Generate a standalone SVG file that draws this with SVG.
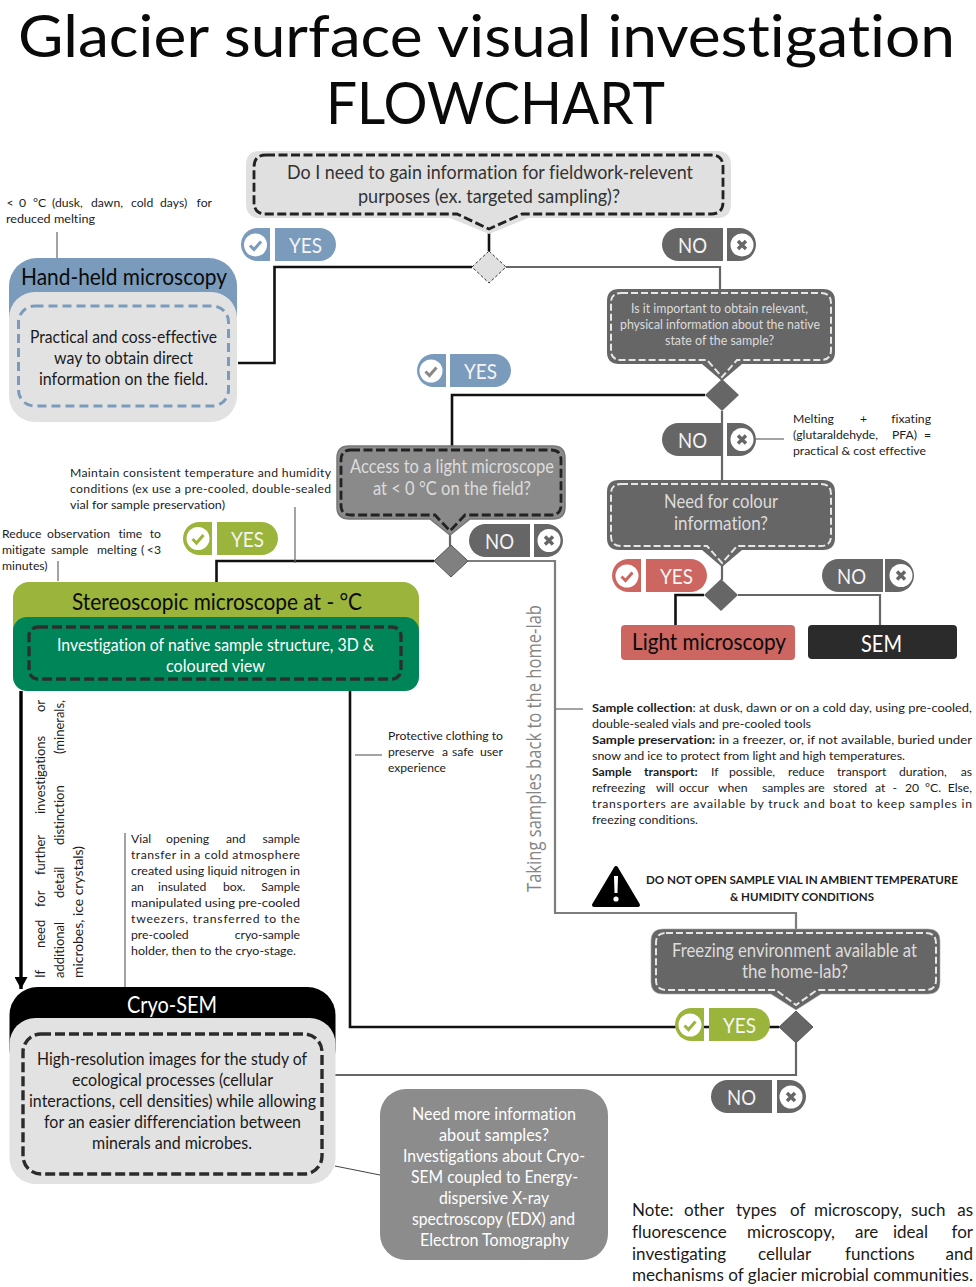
<svg xmlns="http://www.w3.org/2000/svg" width="976" height="1287" viewBox="0 0 976 1287">
<style>
text{font-family:Lato,"Open Sans",sans-serif;font-variant-ligatures:none}
.ti{font-size:58px;font-weight:400;fill:#0a0a0a}
.a{font-size:12.2px;fill:#1c1c1c}
.r{font-size:13px}
.ab{font-weight:700}
.big{font-size:24px;fill:#0a0a0a}
.b{font-size:17px;fill:#1a1a1a}
.w{fill:#fff}
.lt{fill:#dcdcdc}
.q1{font-size:19px;fill:#333}
.q{font-size:19px}
.s{font-size:13px}
.p{font-size:22px;fill:#f4f4f4;font-weight:400}
.rl{font-family:"Open Sans",Lato,sans-serif;font-size:20px;fill:#858585;font-weight:400}
.note{font-size:17px;fill:#1a1a1a}
.e{text-anchor:end}
.k{fill:none;stroke:#111;stroke-width:2.6}
.g{fill:none;stroke:#666;stroke-width:2.2}
.g2{fill:none;stroke:#7d7d7d;stroke-width:2.2}
.th{fill:none;stroke:#666;stroke-width:1.2}
.dk{fill:none;stroke:#222;stroke-width:2.8;stroke-dasharray:9 3.5}
.dl{fill:none;stroke:#e6e6e6;stroke-width:2;stroke-dasharray:7 3}
</style>
<defs>
<path id="lp" d="M16.5 0H29V33H16.5A16.5 16.5 0 0 1 16.5 0Z"/>
<path id="rp" d="M0 0H44.5A16.5 16.5 0 0 1 44.5 33H0Z"/>
<path id="nl" d="M16.5 0H61V33H16.5A16.5 16.5 0 0 1 16.5 0Z"/>
<path id="nr" d="M0 0H12.5A16.5 16.5 0 0 1 12.5 33H0Z"/>
<g id="chk"><circle cx="0" cy="0" r="11.5" fill="#fff"/><path d="M-5.5 0.5L-1.5 4.5L5.5 -3.5" fill="none" stroke="currentColor" stroke-width="3"/></g>
<g id="xx"><circle cx="0" cy="0" r="11.5" fill="#fff"/><path d="M-4 -4L4 4M4 -4L-4 4" fill="none" stroke="#666" stroke-width="3.4"/></g>
<marker id="ah" markerUnits="userSpaceOnUse" markerWidth="14" markerHeight="13" refX="12" refY="6.5" orient="auto"><path d="M0 0L12 6.5L0 13Z" fill="#000"/></marker>
</defs>
<rect width="976" height="1287" fill="#fff"/>
<g id="title">
<text class="ti" x="18" y="57" textLength="937" lengthAdjust="spacingAndGlyphs">Glacier surface visual investigation</text>
<text class="ti" x="326" y="124" textLength="339" lengthAdjust="spacingAndGlyphs">FLOWCHART</text>
</g>
<g id="connectors">
<path class="k" d="M489 232V251"/>
<path class="k" d="M472 267H274.5V363H238"/>
<path class="g" d="M506 267H720V290"/>
<path class="k" d="M705 395H452V447"/>
<path class="g" d="M722 411V481"/>
<path class="g" d="M722 565V580"/>
<path class="k" d="M704 595H675.5V626"/>
<path class="g" d="M738 595H880V626"/>
<path class="g" d="M450 533V546"/>
<path class="k" d="M434 561H216.5V583"/>
<path class="g2" d="M468 561H555V913H796V930"/>
<path fill="none" stroke="#000" stroke-width="3.4" d="M21 691V989" marker-end="url(#ah)"/>
<path class="k" d="M350 691V1027H779"/>
<path class="g" d="M796 1043V1075H335"/>
<path class="th" d="M57 232V258"/>
<path class="th" d="M756 439H784"/>
<path class="th" stroke="#333" d="M295 507V563"/>
<path class="th" d="M58 561V581"/>
<path class="th" d="M556 709H583"/>
<path class="th" d="M355 755H382"/>
<path class="th" d="M125 833V987"/>
<path fill="none" stroke="#444" stroke-width="1" d="M335 1166L380 1175"/>
</g>
<g id="q1">
<path fill="#e0e0e0" d="M260 151H717Q731 151 731 165V204Q731 218 717 218H528L489 234L450 218H260Q246 218 246 204V165Q246 151 260 151Z"/>
<path class="dk" d="M266 155H711Q723 155 723 167V202Q723 214 711 214H522L489 229L457 214H266Q254 214 254 202V167Q254 155 266 155Z"/>
<text class="q1" x="287" y="179" textLength="406" lengthAdjust="spacingAndGlyphs">Do I need to gain information for fieldwork-relevent</text>
<text class="q1" x="358" y="203" textLength="262" lengthAdjust="spacingAndGlyphs">purposes (ex. targeted sampling)?</text>
</g>
<g id="d1"><path fill="#e0e0e0" stroke="#333" stroke-width="1" stroke-dasharray="3 2" d="M489 251L506 267L489 283L472 267Z"/></g>
<g id="yes1" fill="#7b9bbd" color="#7b9bbd">
<use href="#lp" x="241" y="228"/><use href="#rp" x="275" y="228"/><use href="#chk" x="255.5" y="245"/>
<text class="p" x="289" y="252.5" textLength="33" lengthAdjust="spacingAndGlyphs">YES</text>
</g>
<g id="no1" fill="#666"><use href="#nl" x="662" y="228"/><use href="#nr" x="727" y="228"/><use href="#xx" x="742" y="245"/>
<text class="p" x="678" y="252.5" textLength="29" lengthAdjust="spacingAndGlyphs">NO</text></g>
<g id="handheld">
<rect x="9" y="258" width="228" height="90" rx="28" fill="#7b9bbd"/>
<rect x="9" y="292" width="228" height="130" rx="26" fill="#e2e2e2"/>
<rect x="18.5" y="306" width="210" height="100" rx="16" fill="none" stroke="#7b9bbd" stroke-width="3" stroke-dasharray="9 5"/>
<text class="big" x="21" y="285" textLength="206" lengthAdjust="spacingAndGlyphs">Hand-held microscopy</text>
<text class="b" x="30" y="343" textLength="187" lengthAdjust="spacingAndGlyphs">Practical and coss-effective</text>
<text class="b" x="54" y="364" textLength="139" lengthAdjust="spacingAndGlyphs">way to obtain direct</text>
<text class="b" x="39" y="385" textLength="169" lengthAdjust="spacingAndGlyphs">information on the field.</text>
</g>
<g id="note-handheld">
<text class="a" y="207"><tspan x="6.5">&lt;</tspan><tspan x="19">0</tspan><tspan x="33">°C</tspan><tspan x="52">(dusk,</tspan><tspan x="91">dawn,</tspan><tspan x="131">cold</tspan><tspan x="160">days)</tspan><tspan class="e" x="212">for</tspan></text>
<text class="a" x="6" y="223" textLength="89" lengthAdjust="spacingAndGlyphs">reduced melting</text>
</g>
<g id="q2">
<path fill="#666" d="M619 289H823Q835 289 835 301V352Q835 364 823 364H742L722 381L702 364H619Q607 364 607 352V301Q607 289 619 289Z"/>
<path class="dl" d="M621 293H821Q831 293 831 303V350Q831 360 821 360H737L722 377L707 360H621Q611 360 611 350V303Q611 293 621 293Z"/>
<text class="s lt" x="631" y="313" textLength="177" lengthAdjust="spacingAndGlyphs">Is it important to obtain relevant,</text>
<text class="s lt" x="620" y="329" textLength="200" lengthAdjust="spacingAndGlyphs">physical information about the native</text>
<text class="s lt" x="665" y="345" textLength="109" lengthAdjust="spacingAndGlyphs">state of the sample?</text>
</g>
<g id="d2"><path fill="#666" d="M722 379L739 395L722 411L705 395Z"/></g>
<g id="yes2" fill="#7b9bbd" color="#888">
<use href="#lp" x="417" y="354"/><use href="#rp" x="450" y="354"/><use href="#chk" x="431" y="371"/>
<text class="p" x="464" y="378.5" textLength="33" lengthAdjust="spacingAndGlyphs">YES</text>
</g>
<g id="no2" fill="#666"><use href="#nl" x="662" y="423"/><use href="#nr" x="727" y="423"/><use href="#xx" x="742" y="439.5"/>
<text class="p" x="678" y="447.5" textLength="29" lengthAdjust="spacingAndGlyphs">NO</text></g>
<g id="note-melting">
<text class="a" y="423"><tspan x="793">Melting</tspan><tspan x="860">+</tspan><tspan class="e" x="931">fixating</tspan></text>
<text class="a" y="439"><tspan x="793">(glutaraldehyde,</tspan><tspan x="892">PFA)</tspan><tspan class="e" x="931">=</tspan></text>
<text class="a" x="793" y="455" textLength="133" lengthAdjust="spacingAndGlyphs">practical &amp; cost effective</text>
</g>
<g id="q3">
<path fill="#666" d="M619 480H823Q835 480 835 492V538Q835 550 823 550H742L722 567L702 550H619Q607 550 607 538V492Q607 480 619 480Z"/>
<path class="dl" d="M621 484H821Q831 484 831 494V536Q831 546 821 546H737L722 563L707 546H621Q611 546 611 536V494Q611 484 621 484Z"/>
<text class="q lt" x="664" y="508" textLength="114" lengthAdjust="spacingAndGlyphs">Need for colour</text>
<text class="q lt" x="674" y="530" textLength="94" lengthAdjust="spacingAndGlyphs">information?</text>
</g>
<g id="d3"><path fill="#666" d="M721 579L738 595L721 611L704 595Z"/></g>
<g id="yes3" fill="#cd6660" color="#cd6660">
<use href="#lp" x="612" y="559"/><use href="#rp" x="646" y="559"/><use href="#chk" x="627" y="576"/>
<text class="p" x="660" y="584" textLength="33" lengthAdjust="spacingAndGlyphs">YES</text>
</g>
<g id="no3" fill="#666"><use href="#nl" x="822" y="559"/><use href="#nr" x="885" y="559"/><use href="#xx" x="901" y="575.5"/>
<text class="p" x="837" y="584" textLength="29" lengthAdjust="spacingAndGlyphs">NO</text></g>
<g id="light"><rect x="621" y="625" width="174" height="35" rx="4" fill="#cd6660"/>
<text class="big" x="632" y="650" textLength="154" lengthAdjust="spacingAndGlyphs">Light microscopy</text></g>
<g id="sem"><rect x="808" y="625" width="149" height="34" rx="4" fill="#2b2b2b"/>
<text class="big w" x="861" y="652" textLength="41" lengthAdjust="spacingAndGlyphs">SEM</text></g>
<g id="q4">
<path fill="#8a8a8a" stroke="#777" stroke-width="1.5" d="M349 446H553Q565 446 565 458V507Q565 519 553 519H470L450 535L430 519H349Q337 519 337 507V458Q337 446 349 446Z"/>
<path class="dk" stroke="#333" d="M351 450H551Q561 450 561 460V505Q561 515 551 515H465L450 531L435 515H351Q341 515 341 505V460Q341 450 351 450Z"/>
<text class="q lt" x="350" y="473" textLength="204" lengthAdjust="spacingAndGlyphs">Access to a light microscope</text>
<text class="q lt" x="373" y="495" textLength="158" lengthAdjust="spacingAndGlyphs">at &lt; 0 °C on the field?</text>
</g>
<g id="d4"><path fill="#808080" stroke="#555" stroke-width="1" d="M451 545L468 561L451 577L434 561Z"/></g>
<g id="yes4" fill="#9bb43b" color="#9bb43b">
<use href="#lp" x="183" y="522"/><use href="#rp" x="217" y="522"/><use href="#chk" x="198" y="538.5"/>
<text class="p" x="231" y="547" textLength="33" lengthAdjust="spacingAndGlyphs">YES</text>
</g>
<g id="no4" fill="#666"><use href="#nl" x="469" y="524"/><use href="#nr" x="534" y="524"/><use href="#xx" x="549" y="540.5"/>
<text class="p" x="485" y="549" textLength="29" lengthAdjust="spacingAndGlyphs">NO</text></g>
<g id="note-maintain">
<text class="a" x="70" y="477" textLength="261">Maintain consistent temperature and humidity</text>
<text class="a" x="70" y="493" textLength="261">conditions (ex use a pre-cooled, double-sealed</text>
<text class="a" x="70" y="509" textLength="155" lengthAdjust="spacingAndGlyphs">vial for sample preservation)</text>
</g>
<g id="note-reduce">
<text class="a" y="538"><tspan x="2">Reduce</tspan><tspan x="47">observation</tspan><tspan x="118.5">time</tspan><tspan class="e" x="161">to</tspan></text>
<text class="a" y="554"><tspan x="2">mitigate</tspan><tspan x="51">sample</tspan><tspan x="97">melting</tspan><tspan x="141">(</tspan><tspan class="e" x="161">&lt;3</tspan></text>
<text class="a" x="2" y="570">minutes)</text>
</g>
<g id="stereo">
<rect x="13" y="582" width="406" height="70" rx="16" fill="#9bb43b"/>
<rect x="13" y="617" width="406" height="74" rx="14" fill="#008558"/>
<rect x="29" y="627" width="372" height="52" rx="9" fill="none" stroke="#2b2f2d" stroke-width="3.4" stroke-dasharray="10 4"/>
<text class="big" x="72" y="610" textLength="290" lengthAdjust="spacingAndGlyphs">Stereoscopic microscope at - °C</text>
<text class="b w" x="57" y="651" textLength="317" lengthAdjust="spacingAndGlyphs">Investigation of native sample structure, 3D &amp;</text>
<text class="b w" x="166" y="672" textLength="99" lengthAdjust="spacingAndGlyphs">coloured view</text>
</g>
<g id="label-home"><text class="rl" transform="translate(541,892) rotate(-90)" textLength="287" lengthAdjust="spacingAndGlyphs">Taking samples back to the home-lab</text></g>
<g id="note-further">
<text class="a r" transform="translate(45,978) rotate(-90)"><tspan x="0">If</tspan><tspan x="30">need</tspan><tspan x="71">for</tspan><tspan x="103">further</tspan><tspan x="164">investigations</tspan><tspan class="e" x="278">or</tspan></text>
<text class="a r" transform="translate(64,978) rotate(-90)"><tspan x="0">additional</tspan><tspan x="80">detail</tspan><tspan x="133">distinction</tspan><tspan class="e" x="278">(minerals,</tspan></text>
<text class="a r" transform="translate(83,978) rotate(-90)" textLength="132" lengthAdjust="spacingAndGlyphs">microbes, ice crystals)</text>
</g>
<g id="note-protective">
<text class="a" x="388" y="740" textLength="115" lengthAdjust="spacingAndGlyphs">Protective clothing to</text>
<text class="a" y="756"><tspan x="388">preserve</tspan><tspan x="442">a</tspan><tspan x="452">safe</tspan><tspan class="e" x="503">user</tspan></text>
<text class="a" x="388" y="772" textLength="58" lengthAdjust="spacingAndGlyphs">experience</text>
</g>
<g id="note-vial">
<text class="a" y="843"><tspan x="131">Vial</tspan><tspan x="166">opening</tspan><tspan x="226">and</tspan><tspan class="e" x="300">sample</tspan></text>
<text class="a" x="131" y="859" textLength="169">transfer in a cold atmosphere</text>
<text class="a" x="131" y="875" textLength="169" lengthAdjust="spacingAndGlyphs">created using liquid nitrogen in</text>
<text class="a" y="891"><tspan x="131">an</tspan><tspan x="158">insulated</tspan><tspan x="223">box.</tspan><tspan class="e" x="300">Sample</tspan></text>
<text class="a" x="131" y="907" textLength="169" lengthAdjust="spacingAndGlyphs">manipulated using pre-cooled</text>
<text class="a" x="131" y="923" textLength="169">tweezers, transferred to the</text>
<text class="a" y="939"><tspan x="131">pre-cooled</tspan><tspan class="e" x="300">cryo-sample</tspan></text>
<text class="a" x="131" y="955" textLength="165" lengthAdjust="spacingAndGlyphs">holder, then to the cryo-stage.</text>
</g>
<g id="note-sample">
<text class="a" x="592" y="712" textLength="380" lengthAdjust="spacingAndGlyphs"><tspan class="ab">Sample collection</tspan>: at dusk, dawn or on a cold day, using pre-cooled,</text>
<text class="a" x="592" y="728" textLength="219" lengthAdjust="spacingAndGlyphs">double-sealed vials and pre-cooled tools</text>
<text class="a" x="592" y="744" textLength="380" lengthAdjust="spacingAndGlyphs"><tspan class="ab">Sample preservation:</tspan> in a freezer, or, if not available, buried under</text>
<text class="a" x="592" y="760" textLength="313" lengthAdjust="spacingAndGlyphs">snow and ice to protect from light and high temperatures.</text>
<text class="a" y="776"><tspan class="ab" x="592">Sample</tspan><tspan class="ab" x="644">transport:</tspan><tspan x="711">If</tspan><tspan x="729">possible,</tspan><tspan x="788">reduce</tspan><tspan x="837">transport</tspan><tspan x="899">duration,</tspan><tspan class="e" x="972">as</tspan></text>
<text class="a" y="792"><tspan x="592">refreezing</tspan><tspan x="656">will</tspan><tspan x="679">occur</tspan><tspan x="718">when</tspan><tspan x="762">samples</tspan><tspan x="808">are</tspan><tspan x="833">stored</tspan><tspan x="875">at</tspan><tspan x="892.5">-</tspan><tspan x="905">20</tspan><tspan x="925">°C.</tspan><tspan class="e" x="972">Else,</tspan></text>
<text class="a" x="592" y="808" textLength="380">transporters are available by truck and boat to keep samples in</text>
<text class="a" x="592" y="824" textLength="106" lengthAdjust="spacingAndGlyphs">freezing conditions.</text>
</g>
<g id="warning">
<path d="M616 868L638 905H594Z" fill="#000" stroke="#000" stroke-width="4" stroke-linejoin="round"/>
<path d="M614 876H618L617.5 893H614.5Z" fill="#fff"/><circle cx="616" cy="899" r="2.6" fill="#fff"/>
<text class="a ab" x="646" y="884" textLength="312" lengthAdjust="spacingAndGlyphs">DO NOT OPEN SAMPLE VIAL IN AMBIENT TEMPERATURE</text>
<text class="a ab" x="730" y="901" textLength="144" lengthAdjust="spacingAndGlyphs">&amp; HUMIDITY CONDITIONS</text>
</g>
<g id="q5">
<path fill="#666" stroke="#aaa" stroke-width="0.6" d="M663 929H928Q940 929 940 941V982Q940 994 928 994H821L796 1010L771 994H663Q651 994 651 982V941Q651 929 663 929Z"/>
<path class="dl" d="M666 933H926Q936 933 936 943V980Q936 990 926 990H817L796 1005L776 990H666Q656 990 656 980V943Q656 933 666 933Z"/>
<text class="q lt" x="672" y="957" textLength="245" lengthAdjust="spacingAndGlyphs">Freezing environment available at</text>
<text class="q lt" x="742" y="978" textLength="106" lengthAdjust="spacingAndGlyphs">the home-lab?</text>
</g>
<g id="d5"><path fill="#666" stroke="#444" stroke-width="0.8" d="M796 1011L813 1027L796 1043L779 1027Z"/></g>
<g id="yes5" fill="#9bb43b" color="#9bb43b">
<use href="#lp" x="675" y="1008"/><use href="#rp" x="709" y="1008"/><use href="#chk" x="690" y="1025"/>
<text class="p" x="723" y="1033" textLength="33" lengthAdjust="spacingAndGlyphs">YES</text>
</g>
<g id="no5" fill="#666"><use href="#nl" x="711" y="1080"/><use href="#nr" x="777" y="1080"/><use href="#xx" x="791" y="1097"/>
<text class="p" x="727" y="1105" textLength="29" lengthAdjust="spacingAndGlyphs">NO</text></g>
<g id="cryo">
<rect x="9.5" y="987" width="326" height="90" rx="28" fill="#000"/>
<rect x="9.5" y="1018" width="326" height="166" rx="26" fill="#e2e2e2"/>
<rect x="23" y="1034" width="299" height="140" rx="18" fill="none" stroke="#2b2b2b" stroke-width="3.4" stroke-dasharray="10 4"/>
<text class="big w" x="127" y="1013" textLength="90" lengthAdjust="spacingAndGlyphs">Cryo-SEM</text>
<text class="b" x="37" y="1065" textLength="270" lengthAdjust="spacingAndGlyphs">High-resolution images for the study of</text>
<text class="b" x="72" y="1086" textLength="201" lengthAdjust="spacingAndGlyphs">ecological processes (cellular</text>
<text class="b" x="29" y="1107" textLength="287" lengthAdjust="spacingAndGlyphs">interactions, cell densities) while allowing</text>
<text class="b" x="44" y="1128" textLength="257" lengthAdjust="spacingAndGlyphs">for an easier differenciation between</text>
<text class="b" x="92" y="1149" textLength="160" lengthAdjust="spacingAndGlyphs">minerals and microbes.</text>
</g>
<g id="more">
<rect x="380" y="1089" width="228" height="171" rx="26" fill="#8c8c8c"/>
<text class="b w" x="412" y="1120" textLength="164" lengthAdjust="spacingAndGlyphs">Need more information</text>
<text class="b w" x="439" y="1141" textLength="110" lengthAdjust="spacingAndGlyphs">about samples?</text>
<text class="b w" x="403" y="1162" textLength="182" lengthAdjust="spacingAndGlyphs">Investigations about Cryo-</text>
<text class="b w" x="411" y="1183" textLength="167" lengthAdjust="spacingAndGlyphs">SEM coupled to Energy-</text>
<text class="b w" x="439" y="1204" textLength="110" lengthAdjust="spacingAndGlyphs">dispersive X-ray</text>
<text class="b w" x="412" y="1225" textLength="163" lengthAdjust="spacingAndGlyphs">spectroscopy (EDX) and</text>
<text class="b w" x="420" y="1246" textLength="149" lengthAdjust="spacingAndGlyphs">Electron Tomography</text>
</g>
<g id="note">
<text class="note" y="1216"><tspan x="632">Note:</tspan><tspan x="684">other</tspan><tspan x="736">types</tspan><tspan x="790">of</tspan><tspan x="814">microscopy,</tspan><tspan x="911">such</tspan><tspan class="e" x="973">as</tspan></text>
<text class="note" y="1238"><tspan x="632">fluorescence</tspan><tspan x="747">microscopy,</tspan><tspan x="855">are</tspan><tspan x="893">ideal</tspan><tspan class="e" x="973">for</tspan></text>
<text class="note" y="1260"><tspan x="632">investigating</tspan><tspan x="758">cellular</tspan><tspan x="845">functions</tspan><tspan class="e" x="973">and</tspan></text>
<text class="note" x="632" y="1281" textLength="341" lengthAdjust="spacingAndGlyphs">mechanisms of glacier microbial communities.</text>
</g>
</svg>
